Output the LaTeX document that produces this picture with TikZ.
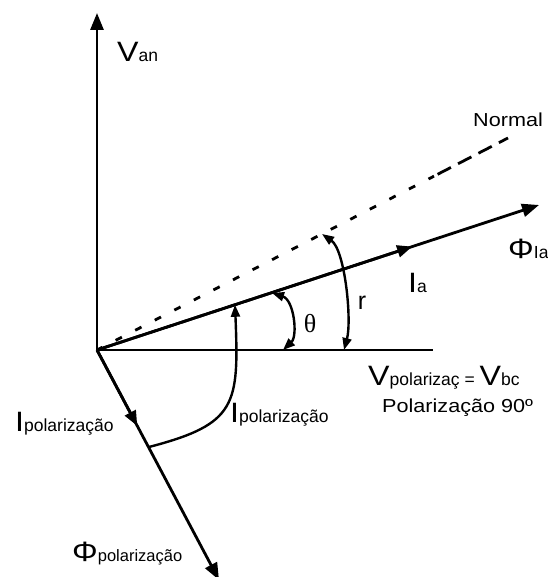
\documentclass[tikz,border=0pt]{standalone}
\usepackage{fontspec}
\setmainfont{Liberation Sans}
\newfontfamily\widefont{Liberation Sans}[FakeStretch=1.15]
\newfontfamily\thetafont{Liberation Serif}
\usetikzlibrary{arrows.meta,calc}
\newcommand{\Bg}[1]{{\widefont\fontsize{28}{30}\selectfont #1}}
\newcommand{\Sm}[1]{{\fontsize{17.5}{19}\selectfont #1}}
\begin{document}
\begin{tikzpicture}[x=1pt,y=1pt,
  vec/.style={line width=2.8pt},
  arcl/.style={line width=2.4pt},
  bigtip/.style={-{Triangle[length=17pt,width=13pt]}},
  midtip/.style={-{Triangle[length=15pt,width=12pt]}},
  arctip/.style={{Triangle[length=12pt,width=9pt]}-{Triangle[length=12pt,width=9pt]}},
  arctipone/.style={-{Triangle[length=12pt,width=9pt]}},
  lab/.style={inner sep=0pt,anchor=base west},
  txt/.style={inner sep=0pt,anchor=base west,font=\widefont\fontsize{18.8}{21}\selectfont}]
\useasboundingbox (0,0) rectangle (547,577);
\coordinate (O) at (97,227);
\coordinate (VanTip) at (97,564);
\coordinate (HEnd) at (433,227);
\coordinate (PhiTip) at (539,372);
\coordinate (NormEnd) at (508,439);
\coordinate (PolTip) at (219,-3);
% axes
\draw[vec,bigtip] (O) -- (VanTip);
\draw[vec] (O) -- (HEnd);
\draw[vec,bigtip] (O) -- (PhiTip);
\draw[vec,bigtip] (O) -- (PolTip);
\draw[vec,midtip] (O) -- ($(O)!0.713!(PhiTip)$);
\draw[vec,midtip] (O) -- ($(O)!0.33!(PolTip)$);
% normal line
\coordinate (NormMid) at ($(O)!0.82!(NormEnd)$);
\draw[vec,dash pattern=on 7pt off 15pt,dash phase=1pt] (O) -- (NormMid);
\draw[vec,dash pattern=on 15pt off 8pt,dash phase=-4pt] (NormMid) -- (NormEnd);
% arcs
\coordinate (RA) at (322,343);
\coordinate (RB) at (344,227);
\draw[arcl,arctip] (RA) .. controls (345,327) and (352,257) .. (RB);
\coordinate (TA) at (272,284);
\coordinate (TB) at (283,227);
\draw[arcl,arctip] (TA) .. controls (294,277) and (298,241) .. (TB);
\coordinate (PA) at (149,130);
\coordinate (PB) at (235,272.2);
\draw[arcl,arctipone] (PA) .. controls (237,153) and (239,172) .. (PB);
% labels
\node[lab] (van) at (117,515) {\Bg{V}\Sm{an}};
\node[txt] (normal) at (473,450) {Normal};
\node[lab] (phiia) at (508,318) {\Bg{Φ}\Sm{Ia}};
\node[lab] (ia) at (408,284) {\Bg{I}\Sm{a}};
\node[inner sep=0pt,font=\fontsize{25}{27}\selectfont] (r) at (362,274) {r};
\node[inner sep=0pt,font=\thetafont\fontsize{26}{28}\selectfont] (theta) at (310,253) {θ};
\node[lab] (vpol) at (368,191) {\Bg{V}\Sm{polarizaç = }\Bg{V}\Sm{bc}};
\node[txt] (pol90) at (382,164) {Polarização 90º};
\node[lab] (ipolr) at (230,154) {\Bg{I}\Sm{polarização}};
\node[lab] (ipoll) at (15,145) {\Bg{I}\Sm{polarização}};
\node[lab] (phipol) at (72,16) {\Bg{Φ}{\fontsize{16.5}{18}\selectfont polarização}};
\end{tikzpicture}
\end{document}
